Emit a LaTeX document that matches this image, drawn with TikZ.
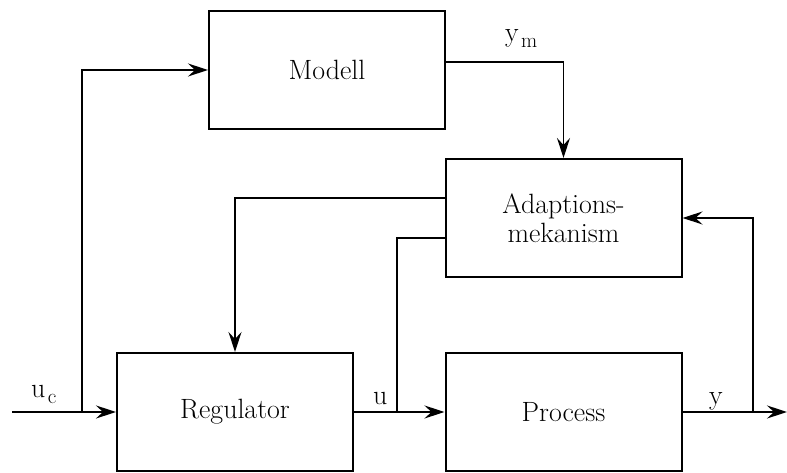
\documentclass[tikz,border=0pt]{standalone}
\usepackage{fontspec}
\usetikzlibrary{arrows.meta,positioning}

\newcommand{\lowsub}[1]{\raisebox{-0.45ex}{\fontsize{21}{24}\selectfont\kern2.5bp#1}}

\tikzset{
  block/.style={draw, line width=2bp, minimum width=236bp, minimum height=118bp,
    inner sep=0pt, align=center, font=\fontsize{28}{29}\selectfont},
  sig/.style={line width=1.5bp},
  mainsig/.style={line width=2.2bp},
  lbl/.style={inner sep=0pt, anchor=base west, font=\fontsize{28}{29}\selectfont}
}

\begin{document}
\begin{tikzpicture}[x=1bp,y=1bp,>={Stealth[length=20bp,width=13bp,inset=7bp]}]
  \useasboundingbox (0,0) rectangle (787,473);
  % blocks
  \node[block] (modell) at (327,403) {Modell};
  \node[block] (adapt) at (563.5,255) {Adaptions-\\mekanism};
  \node[block] (reg) at (235,61) {Regulator};
  \node[block] (proc) at (563.5,61) {Process};
  % branch points and free ends
  \coordinate (in) at (12,61);
  \coordinate (out) at (787,61);
  \coordinate (ucbr) at (82,61);
  \coordinate (ubr) at (397,61);
  \coordinate (ybr) at (753,61);
  % signals
  \draw[mainsig,->] (in) -- (reg.west);
  \draw[sig,->] (ucbr) |- (modell.west);
  \draw[sig,->] ([yshift=8]modell.east) -| (adapt.north);
  \draw[sig,->] ([yshift=20]adapt.west) -| (reg.north);
  \draw[sig] ([yshift=-20]adapt.west) -| (ubr);
  \draw[mainsig,->] (reg.east) -- (proc.west);
  \draw[mainsig,->] (proc.east) -- (out);
  \draw[sig,->] (ybr) |- (adapt.east);
  % labels
  \node[lbl] (uc) at (31,75) {u\lowsub{c}};
  \node[lbl] (ym) at (505,431) {y\lowsub{m}};
  \node[lbl] (u) at (373,68) {u};
  \node[lbl] (y) at (709,68) {y};
\end{tikzpicture}
\end{document}
